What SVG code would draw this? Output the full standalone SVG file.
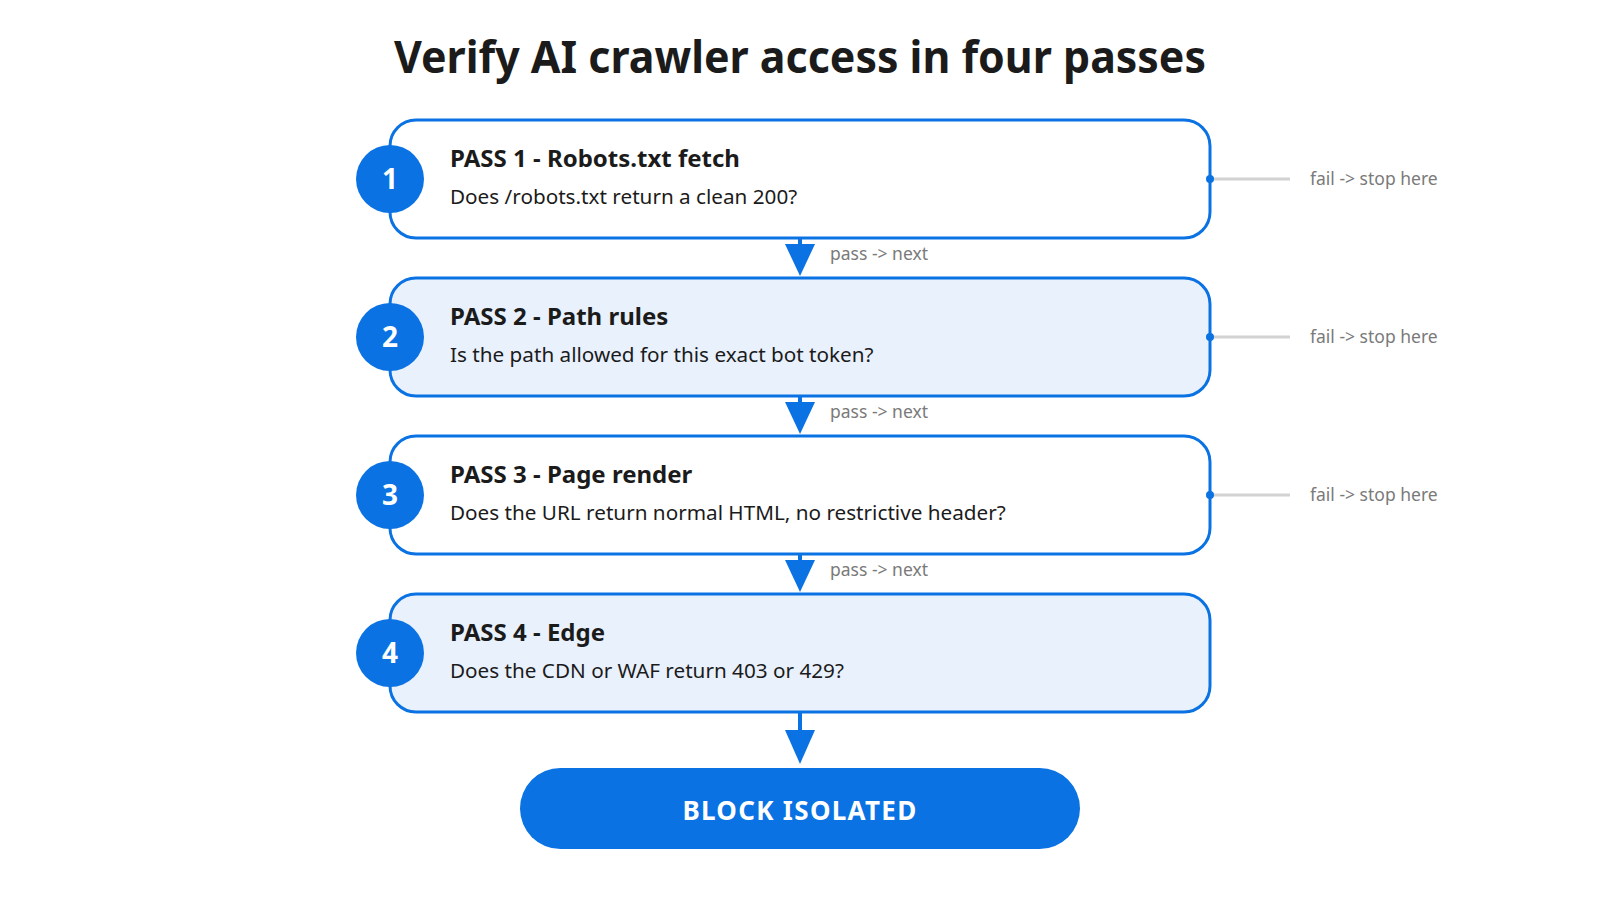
<svg xmlns="http://www.w3.org/2000/svg" width="1600" height="900" viewBox="0 0 1600 900">
<defs>
<style>
.box{stroke:#0A72E2;stroke-width:3}
.w{fill:#ffffff}
.b{fill:#E9F1FD}
.num{fill:#0A72E2}
.numt{font-family:"Noto Sans","Open Sans",sans-serif;font-weight:700;font-size:28px;fill:#ffffff;text-anchor:middle}
.h{font-family:"Noto Sans","Open Sans",sans-serif;font-weight:700;font-size:24px;fill:#1b1b1b}
.s{font-family:"Noto Sans","Open Sans",sans-serif;font-size:20.7px;fill:#1b1b1b}
.lab{font-family:"Noto Sans","Open Sans",sans-serif;font-size:17.5px;fill:#7a7a7a}
.fail{stroke:#d2d2d2;stroke-width:3}
.dot{fill:#0A72E2}
.flow{stroke:#0A72E2;stroke-width:4;fill:none}
.head{fill:#0A72E2}
</style>
</defs>
<rect width="1600" height="900" fill="#ffffff"/>
<text x="800" y="73" text-anchor="middle" font-family="Noto Sans, Open Sans, sans-serif" font-weight="700" font-size="44" fill="#1b1b1b" textLength="812" lengthAdjust="spacingAndGlyphs">Verify AI crawler access in four passes</text>

<g id="pass1">
<rect class="box w" x="390" y="120" width="820" height="118" rx="26"/>
<circle class="num" cx="390" cy="179" r="34"/>
<text class="numt" x="390" y="189">1</text>
<text class="h" x="450" y="167">PASS 1 - Robots.txt fetch</text>
<text class="s" x="450" y="204">Does /robots.txt return a clean 200?</text>
</g>
<g id="pass2">
<rect class="box b" x="390" y="278" width="820" height="118" rx="26"/>
<circle class="num" cx="390" cy="337" r="34"/>
<text class="numt" x="390" y="347">2</text>
<text class="h" x="450" y="325">PASS 2 - Path rules</text>
<text class="s" x="450" y="362">Is the path allowed for this exact bot token?</text>
</g>
<g id="pass3">
<rect class="box w" x="390" y="436" width="820" height="118" rx="26"/>
<circle class="num" cx="390" cy="495" r="34"/>
<text class="numt" x="390" y="505">3</text>
<text class="h" x="450" y="483">PASS 3 - Page render</text>
<text class="s" x="450" y="520">Does the URL return normal HTML, no restrictive header?</text>
</g>
<g id="pass4">
<rect class="box b" x="390" y="594" width="820" height="118" rx="26"/>
<circle class="num" cx="390" cy="653" r="34"/>
<text class="numt" x="390" y="663">4</text>
<text class="h" x="450" y="641">PASS 4 - Edge</text>
<text class="s" x="450" y="678">Does the CDN or WAF return 403 or 429?</text>
</g>
<g id="result">
<rect x="520" y="768" width="560" height="81" rx="40.5" fill="#0A72E2"/>
<text x="800" y="820" text-anchor="middle" font-family="Noto Sans, Open Sans, sans-serif" font-weight="700" font-size="26" fill="#ffffff" letter-spacing="1.3">BLOCK ISOLATED</text>
</g>

<g id="connectors">
<line class="fail" x1="1212" y1="179" x2="1290" y2="179"/>
<circle class="dot" cx="1210" cy="179" r="4"/>
<text class="lab" x="1310" y="185">fail -&gt; stop here</text>
<line class="fail" x1="1212" y1="337" x2="1290" y2="337"/>
<circle class="dot" cx="1210" cy="337" r="4"/>
<text class="lab" x="1310" y="343">fail -&gt; stop here</text>
<line class="fail" x1="1212" y1="495" x2="1290" y2="495"/>
<circle class="dot" cx="1210" cy="495" r="4"/>
<text class="lab" x="1310" y="501">fail -&gt; stop here</text>

<line class="flow" x1="800" y1="239" x2="800" y2="246"/>
<polygon class="head" points="785,244 815,244 800,276"/>
<text class="lab" x="830" y="260">pass -&gt; next</text>
<line class="flow" x1="800" y1="397" x2="800" y2="404"/>
<polygon class="head" points="785,402 815,402 800,434"/>
<text class="lab" x="830" y="418">pass -&gt; next</text>
<line class="flow" x1="800" y1="555" x2="800" y2="562"/>
<polygon class="head" points="785,560 815,560 800,592"/>
<text class="lab" x="830" y="576">pass -&gt; next</text>
<line class="flow" x1="800" y1="713" x2="800" y2="732"/>
<polygon class="head" points="785,730 815,730 800,764"/>
</g>
</svg>
